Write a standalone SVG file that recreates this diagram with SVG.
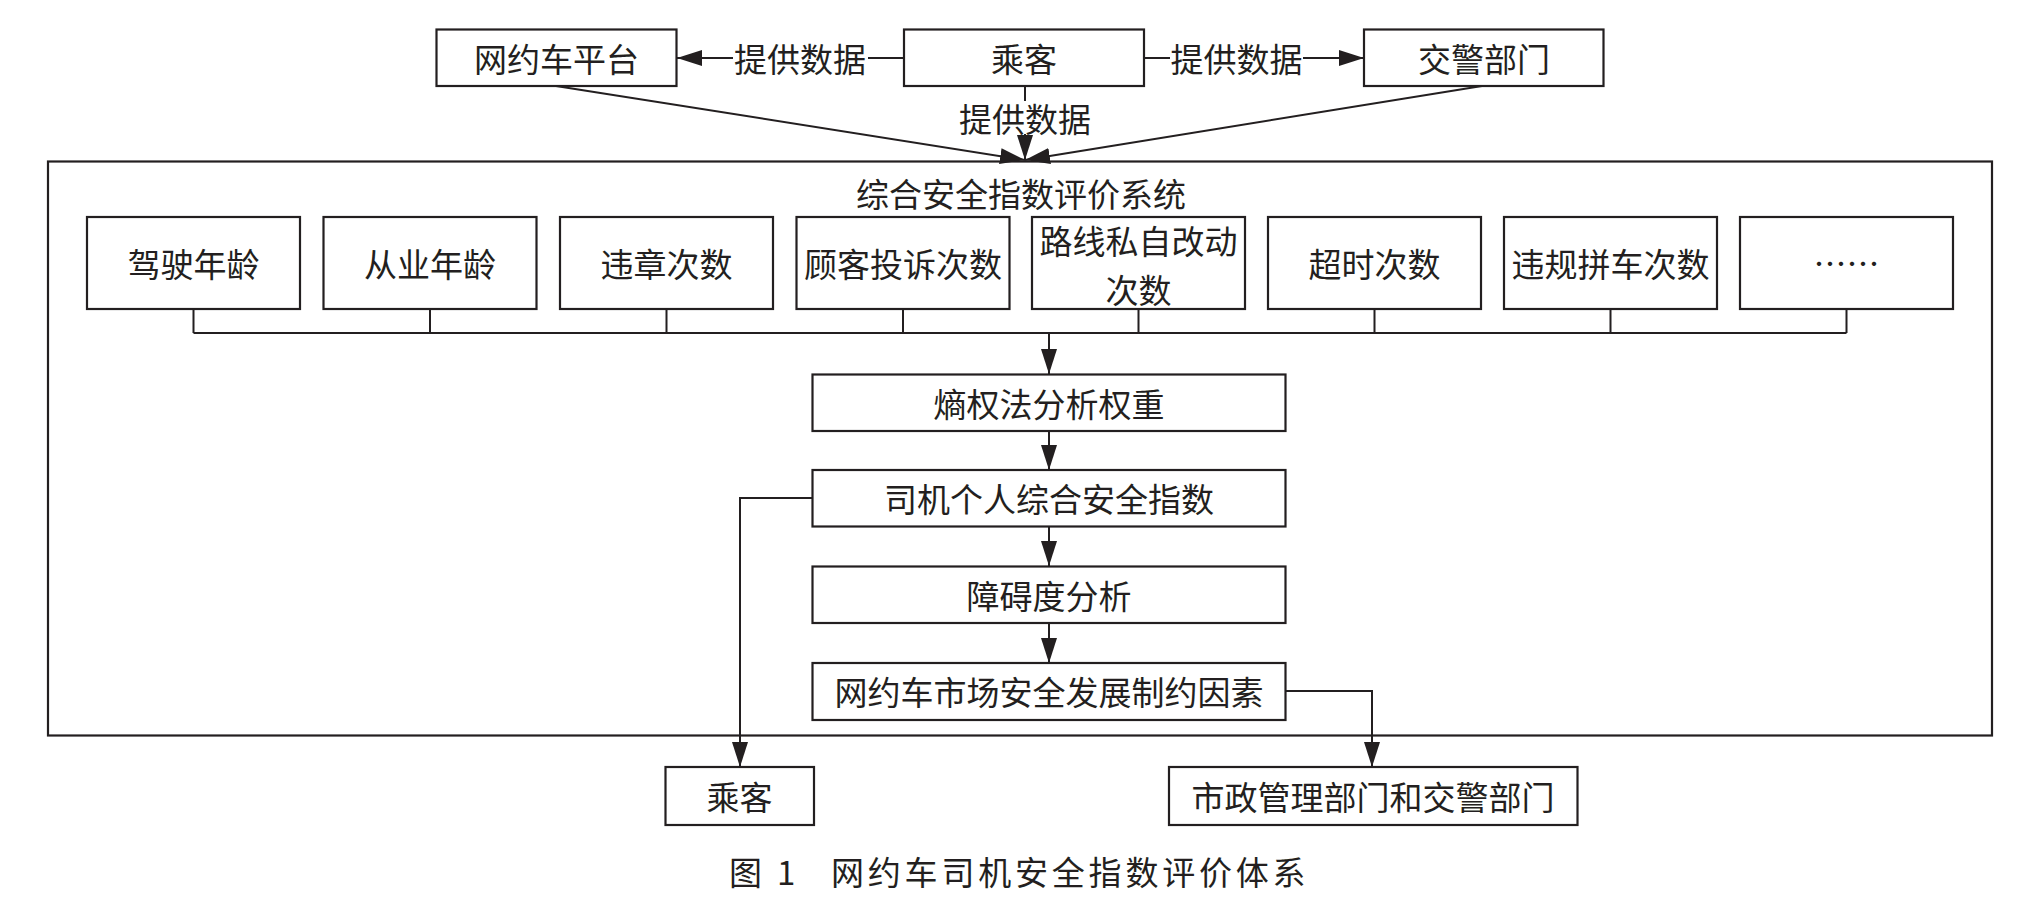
<svg xmlns="http://www.w3.org/2000/svg" width="2026" height="901" viewBox="0 0 2026 901">
<style>
.box{fill:#fff;stroke:#231f20;stroke-width:2.2}
.t{font-family:"Noto Sans CJK SC","Noto Sans",sans-serif;font-size:33px;fill:#231f20;text-anchor:middle;dominant-baseline:central}
.c{fill:none;stroke:#231f20;stroke-width:2}
.cap{font-family:"Noto Sans CJK SC","Noto Sans",sans-serif;font-size:33px;fill:#231f20;dominant-baseline:central}
</style>
<defs>
<marker id="ah" markerUnits="userSpaceOnUse" markerWidth="26" markerHeight="18" refX="25" refY="8" orient="auto">
<path d="M0,0 L25,8 L0,16 z" fill="#231f20"/>
</marker>
</defs>
<rect width="2026" height="901" fill="#fff"/>

<g id="container">
<rect class="box" x="48" y="161.5" width="1944" height="574"/>
<text class="t" x="1021" y="193">综合安全指数评价系统</text>
</g>

<g id="n_platform"><rect class="box" x="436.5" y="29.5" width="240" height="56.5"/><text class="t" x="556.5" y="58">网约车平台</text></g>
<g id="n_passenger_top"><rect class="box" x="904" y="29.5" width="240" height="56.5"/><text class="t" x="1024" y="58">乘客</text></g>
<g id="n_police"><rect class="box" x="1364" y="29.5" width="239.5" height="56.5"/><text class="t" x="1484" y="58">交警部门</text></g>

<g id="n_f1"><rect class="box" x="87" y="217" width="213" height="92"/><text class="t" x="193.5" y="263">驾驶年龄</text></g>
<g id="n_f2"><rect class="box" x="323.5" y="217" width="213" height="92"/><text class="t" x="430" y="263">从业年龄</text></g>
<g id="n_f3"><rect class="box" x="560" y="217" width="213" height="92"/><text class="t" x="666.5" y="263">违章次数</text></g>
<g id="n_f4"><rect class="box" x="796.5" y="217" width="213" height="92"/><text class="t" x="903" y="263">顾客投诉次数</text></g>
<g id="n_f5"><rect class="box" x="1032" y="217" width="213" height="92"/><text class="t" x="1138.5" y="240">路线私自改动</text><text class="t" x="1138.5" y="289">次数</text></g>
<g id="n_f6"><rect class="box" x="1268" y="217" width="213" height="92"/><text class="t" x="1374.5" y="263">超时次数</text></g>
<g id="n_f7"><rect class="box" x="1504" y="217" width="213" height="92"/><text class="t" x="1610.5" y="263">违规拼车次数</text></g>
<g id="n_f8"><rect class="box" x="1740" y="217" width="213" height="92"/><text class="t" x="1846.5" y="262">……</text></g>

<g id="n_entropy"><rect class="box" x="812.5" y="374.5" width="473" height="56.5"/><text class="t" x="1049" y="403">熵权法分析权重</text></g>
<g id="n_index"><rect class="box" x="812.5" y="470" width="473" height="56.5"/><text class="t" x="1049" y="498">司机个人综合安全指数</text></g>
<g id="n_obstacle"><rect class="box" x="812.5" y="566.5" width="473" height="56.5"/><text class="t" x="1049" y="595">障碍度分析</text></g>
<g id="n_factors"><rect class="box" x="812.5" y="663" width="473" height="57"/><text class="t" x="1049" y="691">网约车市场安全发展制约因素</text></g>

<g id="n_passenger_bottom"><rect class="box" x="665.5" y="767" width="148.5" height="58"/><text class="t" x="739.5" y="796">乘客</text></g>
<g id="n_gov"><rect class="box" x="1169" y="767" width="408.5" height="58"/><text class="t" x="1373" y="796">市政管理部门和交警部门</text></g>

<g id="connectors">
<path class="c" d="M904,58 H868"/>
<path class="c" d="M733,58 H677" marker-end="url(#ah)"/>
<text class="t" x="800" y="58">提供数据</text>
<path class="c" d="M1144,58 H1170"/>
<path class="c" d="M1303,58 H1364" marker-end="url(#ah)"/>
<text class="t" x="1236.5" y="58">提供数据</text>
<path class="c" d="M1025,86 V101"/>
<path class="c" d="M1025,134 V160" marker-end="url(#ah)"/>
<text class="t" x="1025" y="118">提供数据</text>
<path class="c" d="M556,86 L1025,160" marker-end="url(#ah)"/>
<path class="c" d="M1482,86 L1025,160" marker-end="url(#ah)"/>

<path class="c" d="M193.5,309 V333 M430,309 V333 M666.5,309 V333 M903,309 V333 M1138.5,309 V333 M1374.5,309 V333 M1610.5,309 V333 M1846.5,309 V333 M193.5,333 H1846.5"/>
<path class="c" d="M1049,333 V374" marker-end="url(#ah)"/>
<path class="c" d="M1049,431 V470" marker-end="url(#ah)"/>
<path class="c" d="M1049,527 V566" marker-end="url(#ah)"/>
<path class="c" d="M1049,623 V663" marker-end="url(#ah)"/>
<path class="c" d="M812.5,498 H740 V767" marker-end="url(#ah)"/>
<path class="c" d="M1285.5,691 H1372 V767" marker-end="url(#ah)"/>
</g>

<g id="caption">
<text class="cap" x="729" y="871">图</text>
<text class="cap" x="777" y="871" font-family="Liberation Serif, serif">1</text>
<text class="cap" x="831" y="871" letter-spacing="3.8">网约车司机安全指数评价体系</text>
</g>
</svg>
